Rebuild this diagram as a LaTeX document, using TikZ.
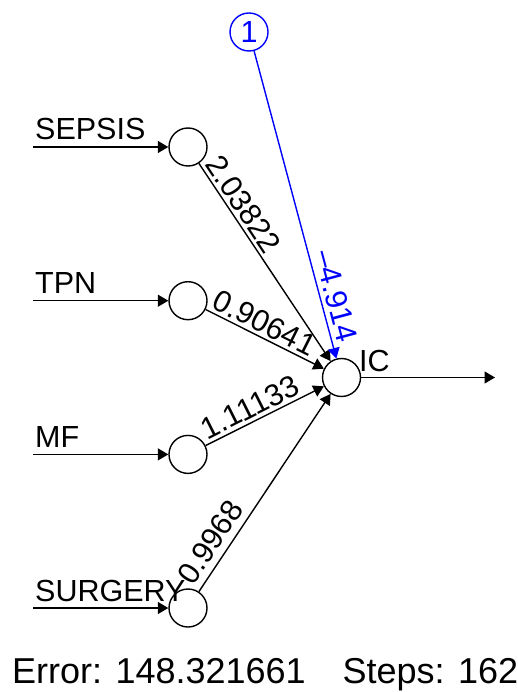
\documentclass[tikz,border=0pt]{standalone}
\usepackage{fontspec}
\setmainfont{Liberation Sans}
\usetikzlibrary{arrows.meta}
\begin{document}
\begin{tikzpicture}[x=1pt,y=-1pt,
  neuron/.style={circle,draw,line width=1.4pt,minimum size=38pt,inner sep=0pt},
  conn/.style={line width=1.4pt,-{Triangle[length=10.5pt,width=12pt]}},
  lab/.style={font=\fontsize{30.5}{36}\selectfont,inner sep=0pt},
  wlab/.style={lab,sloped,anchor=south west,inner sep=3pt},
]
\useasboundingbox (0,0) rectangle (518,692);
% neurons
\node[neuron] (i1) at (188,147) {};
\node[neuron] (i2) at (188,300.7) {};
\node[neuron] (i3) at (188,454.4) {};
\node[neuron] (i4) at (188,608) {};
\node[neuron] (ic) at (341.5,377.5) {};
\node[neuron,blue,lab,text=blue] (bias) at (249,32) {1};
% input arrows
\coordinate (s1) at (33,147);
\coordinate (s2) at (33,300.7);
\coordinate (s3) at (33,454.4);
\coordinate (s4) at (33,608);
\draw[conn] (s1) -- (i1);
\draw[conn] (s2) -- (i2);
\draw[conn] (s3) -- (i3);
\draw[conn] (s4) -- (i4);
\node[lab,anchor=base west] (l1) at (35,140) {SEPSIS};
\node[lab,anchor=base west] (l2) at (35,293.7) {TPN};
\node[lab,anchor=base west] (l3) at (35,447.4) {MF};
\node[lab,anchor=base west] (l4) at (35,601) {SURGERY};
% weights
\draw[conn] (i1) -- node[wlab,pos=0] (w1) {2.03822} (ic);
\draw[conn] (i2) -- node[wlab,pos=0] (w2) {0.90641} (ic);
\draw[conn] (i3) -- node[wlab,pos=0] (w3) {1.11133} (ic);
\draw[conn] (i4) -- node[wlab,pos=0,inner xsep=0pt,inner ysep=6.5pt] (w4) {0.9968} (ic);
\draw[conn,blue] (bias) -- node[lab,sloped,anchor=south,inner sep=4.5pt,pos=0.81,text=blue] (wb) {–4.914} (ic);
% output
\coordinate (out) at (495,377.5);
\draw[conn] (ic) -- (out);
\node[lab,anchor=base west] (lic) at (359,371) {IC};
% footer
\node[font=\fontsize{36}{42}\selectfont,inner sep=0pt,anchor=base west] (foot) at (12,683) {Error: 148.321661\hspace{37pt}Steps: 162};
\end{tikzpicture}
\end{document}
